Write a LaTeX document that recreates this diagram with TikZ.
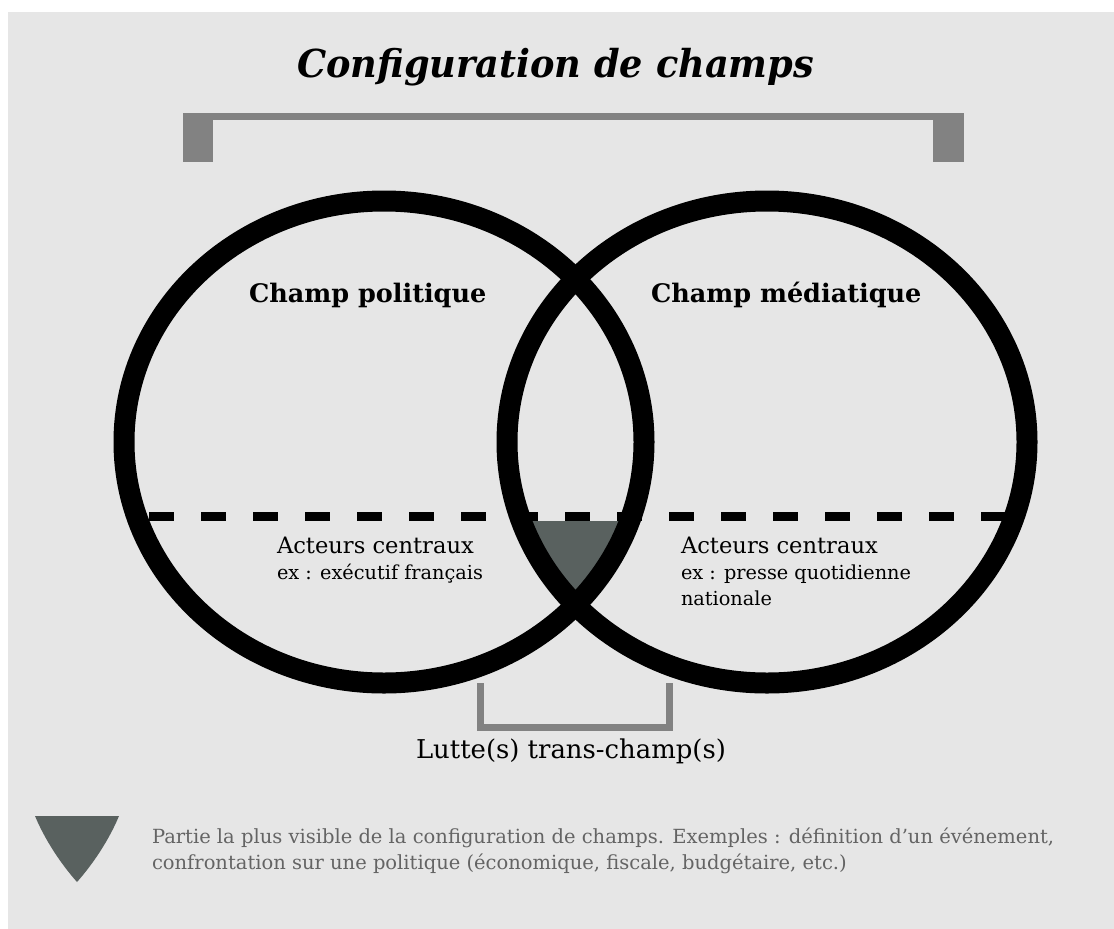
\documentclass[tikz,border=0pt]{standalone}
\usepackage{graphicx}
\usepackage{fontspec}
\setmainfont{DejaVu Serif}
\definecolor{bg}{RGB}{230,230,230}
\definecolor{brk}{RGB}{130,130,130}
\definecolor{wedge}{RGB}{89,97,95}
\definecolor{legtxt}{RGB}{100,100,100}
\newcommand{\fitw}[2]{\resizebox{#1}{\height}{#2}}
\begin{document}
\begin{tikzpicture}[x=1pt,y=-1pt,
  ring/.style={line width=21pt,draw=black},
  lbl/.style={anchor=base west,inner sep=0pt,outer sep=0pt},
  field/.style={lbl,font=\bfseries\fontsize{25.5}{30}\selectfont},
  actor/.style={lbl,font=\fontsize{22.6}{26}\selectfont},
  example/.style={lbl,font=\fontsize{19.3}{23}\selectfont},
  legend/.style={lbl,text=legtxt,font=\fontsize{19.5}{23}\selectfont}]
\useasboundingbox (0,0) rectangle (1114,929);
\fill[white] (0,0) rectangle (1114,929);
\fill[bg] (8,12) rectangle (1114,929);
% title
\node[lbl,font=\bfseries\itshape\fontsize{38.5}{44}\selectfont] (title) at (297,77) {\fitw{517pt}{Configuration de champs}};
% top bracket
\fill[brk] (183,113) rectangle (964,119.5);
\fill[brk] (183,113) rectangle (213,162);
\fill[brk] (933,113) rectangle (964,162);
% dashed line
\draw[line width=9pt,dash pattern=on 25pt off 27pt] (149,516.5) -- (1006,516.5);
% wedge
\begin{scope}
  \clip (384,442) ellipse [x radius=260, y radius=241];
  \clip (767,442) ellipse [x radius=260, y radius=241];
  \fill[wedge] (400,521) rectangle (750,700);
\end{scope}
% rings
\draw[ring] (384,442) ellipse [x radius=260, y radius=241];
\draw[ring] (767,442) ellipse [x radius=260, y radius=241];
% labels
\node[field] (pol) at (249,302) {Champ politique};
\node[field] (med) at (651,302) {Champ médiatique};
\node[actor] (actL) at (277,553) {Acteurs centraux};
\node[example] (exL) at (277,579) {ex : exécutif français};
\node[actor] (actR) at (681,553) {Acteurs centraux};
\node[example] (exR1) at (681,579) {ex : presse quotidienne};
\node[example] (exR2) at (681,605) {nationale};
% bottom bracket
\draw[brk,line width=7pt,line join=miter] (480.5,683) -- (480.5,727.5) -- (669,727.5) -- (669,683);
\node[lbl,font=\fontsize{25.9}{30}\selectfont] (lutte) at (416,758) {Lutte(s) trans-champ(s)};
% legend
\fill[wedge] (35,816) -- (119,816) .. controls (109,840) and (93,864) .. (77,882) .. controls (61,864) and (45,840) .. (35,816) -- cycle;
\node[legend] (leg1) at (152,843) {Partie la plus visible de la configuration de champs. Exemples : définition d’un événement,};
\node[legend] (leg2) at (152,869) {confrontation sur une politique (économique, fiscale, budgétaire, etc.)};
\end{tikzpicture}
\end{document}
